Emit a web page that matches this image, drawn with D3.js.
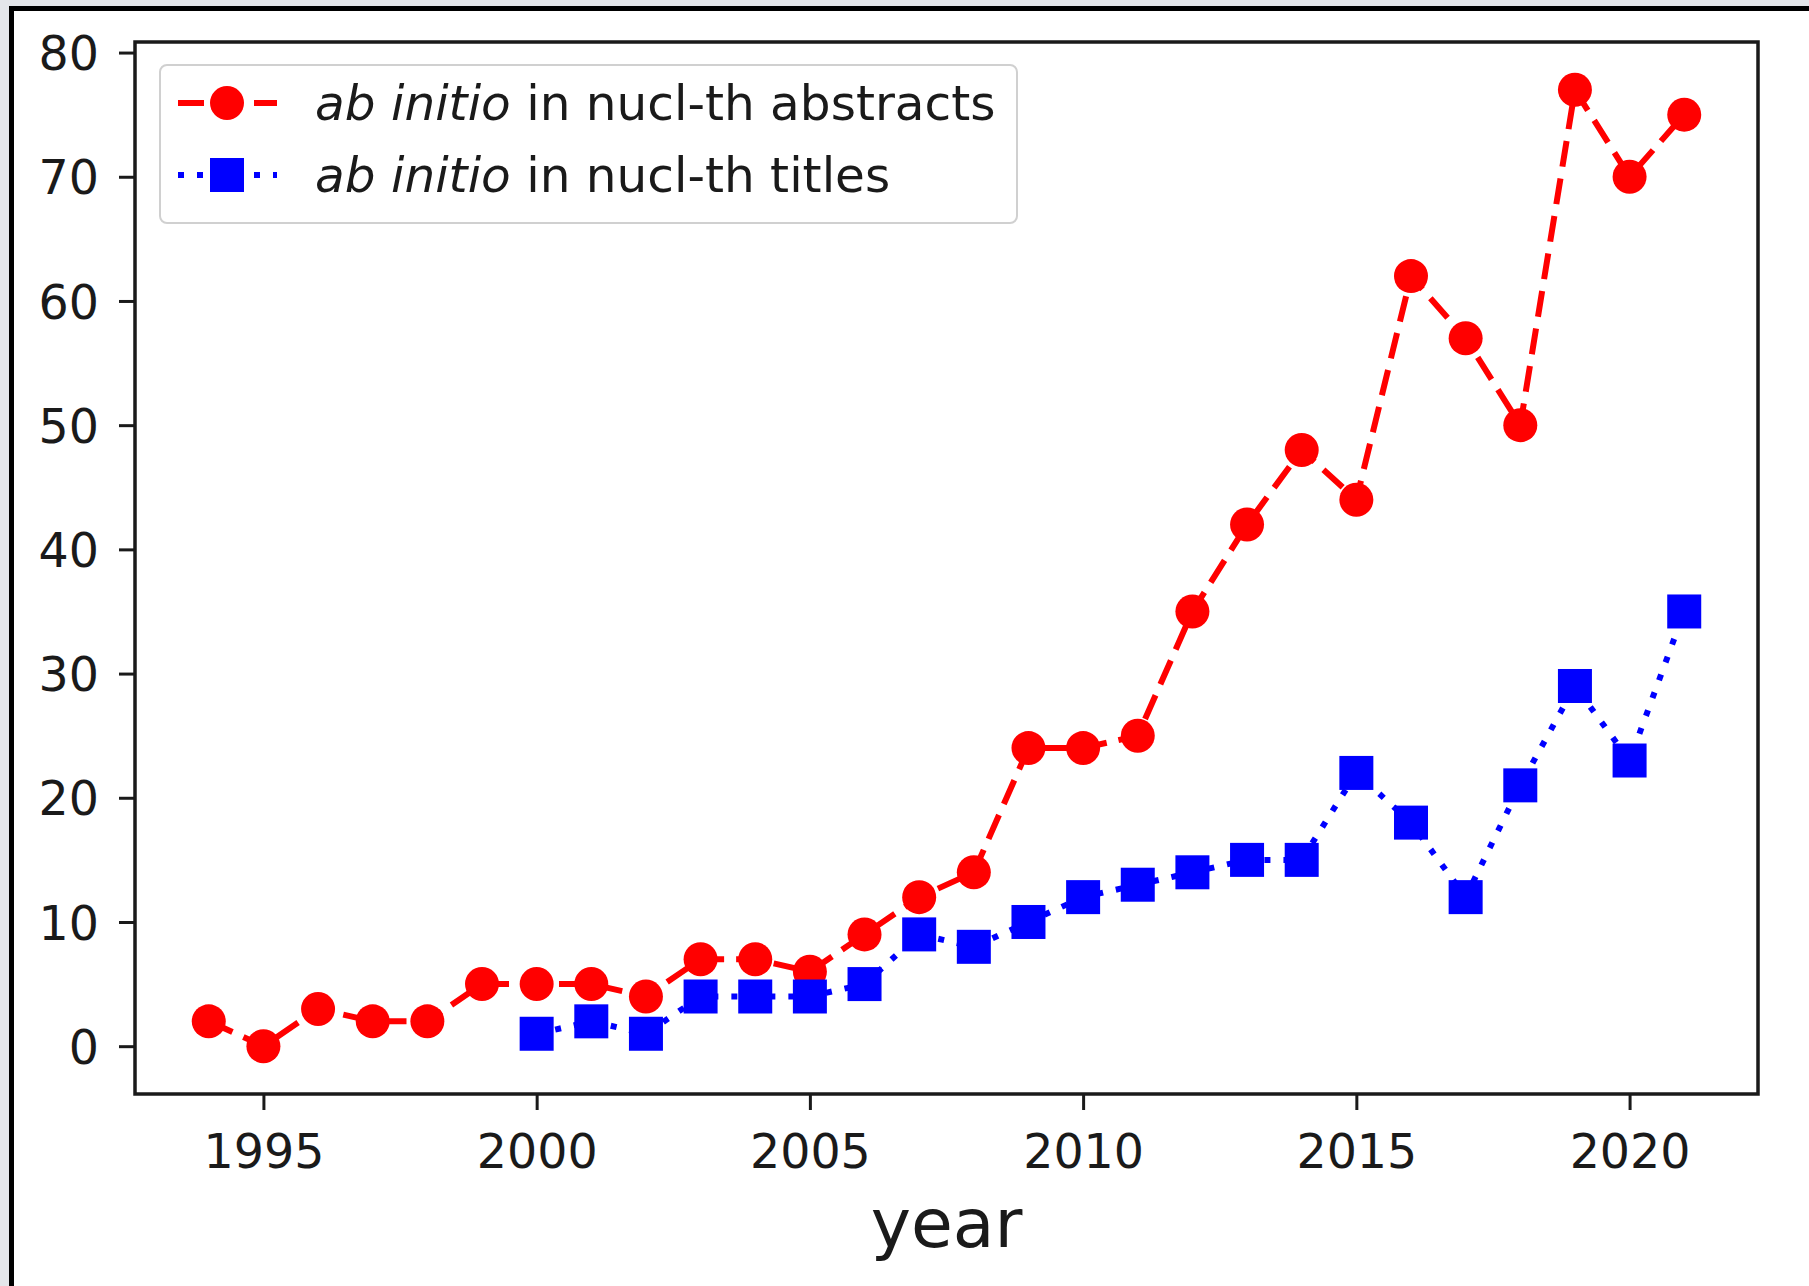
<!DOCTYPE html>
<html>
<head>
<meta charset="utf-8">
<script src="https://cdn.jsdelivr.net/npm/d3@7"></script>
<style>
	html, body { margin: 0; padding: 0; background: #e4e6ea; overflow: hidden; }
	#frame { position: absolute; left: 9px; top: 6px; width: 1900px; height: 1400px; background: #fff; border-left: 5px solid #000; border-top: 5px solid #000; }
	#chart { position: absolute; left: 0; top: 0; }
	text { font-family: "DejaVu Sans", sans-serif; fill: #1a1a1a; }
</style>
</head>
<body>
<div id="frame"></div>
<div id="chart"></div>
<script>
// data
var years = [1994, 1995, 1996, 1997, 1998, 1999, 2000, 2001, 2002, 2003, 2004, 2005, 2006, 2007,
	2008, 2009, 2010, 2011, 2012, 2013, 2014, 2015, 2016, 2017, 2018, 2019, 2020, 2021];
var abstracts = [2, 0, 3, 2, 2, 5, 5, 5, 4, 7, 7, 6, 9, 12,
	14, 24, 24, 25, 35, 42, 48, 44, 62, 57, 50, 77, 70, 75];
var titleYears = [2000, 2001, 2002, 2003, 2004, 2005, 2006, 2007, 2008, 2009, 2010,
	2011, 2012, 2013, 2014, 2015, 2016, 2017, 2018, 2019, 2020, 2021];
var titles = [1, 2, 1, 4, 4, 4, 5, 9, 8, 10, 12,
	13, 14, 15, 15, 22, 18, 12, 21, 29, 23, 35];
var xTicks = [1995, 2000, 2005, 2010, 2015, 2020];
var yTicks = [0, 10, 20, 30, 40, 50, 60, 70, 80];
var legendLabels = ['in nucl-th abstracts', 'in nucl-th titles'];

var W = 1809, H = 1286;
var area = { l: 135, r: 1758, t: 42, b: 1094 };
var fs = 47.5;
var lw = 6;

var svg = d3.select('#chart').append('svg').attr('width', W).attr('height', H);

// matplotlib style 5% margins
var x = d3.scaleLinear().domain([1992.65, 2022.35]).range([area.l, area.r]);
var y = d3.scaleLinear().domain([-3.85, 80.85]).range([area.b, area.t]);

// axes
var gx = svg.append('g').attr('class', 'x-axis').attr('transform', 'translate(0,' + area.b + ')')
	.call(d3.axisBottom(x).tickValues(xTicks).tickSize(16).tickPadding(20).tickFormat(d3.format('d')));
var gy = svg.append('g').attr('class', 'y-axis').attr('transform', 'translate(' + area.l + ',0)')
	.call(d3.axisLeft(y).tickValues(yTicks).tickSize(16).tickPadding(20).tickFormat(d3.format('d')));
[gx, gy].forEach(function (g) {
	g.select('.domain').remove();
	g.selectAll('.tick line').attr('stroke', '#1a1a1a').attr('stroke-width', 3);
	g.selectAll('.tick text').style('font-size', fs + 'px').attr('fill', '#1a1a1a');
});
gx.selectAll('.tick text').attr('dy', null).attr('y', 74).style('dominant-baseline', 'alphabetic');
gy.selectAll('.tick text').attr('dy', '0.36em');

// x axis title
svg.append('text').attr('x', (area.l + area.r) / 2).attr('y', 1247)
	.attr('text-anchor', 'middle').style('font-size', '68px').text('year');

// series
var line = d3.line().x(function (d) { return x(d[0]); }).y(function (d) { return y(d[1]); });
var redPts = years.map(function (d, i) { return [d, abstracts[i]]; });
var bluePts = titleYears.map(function (d, i) { return [d, titles[i]]; });

svg.append('path').datum(redPts).attr('d', line).attr('fill', 'none')
	.attr('stroke', '#ff0000').attr('stroke-width', lw).attr('stroke-dasharray', '26,12');
svg.append('g').selectAll('circle').data(redPts).join('circle')
	.attr('cx', function (d) { return x(d[0]); }).attr('cy', function (d) { return y(d[1]); })
	.attr('r', 17).attr('fill', '#ff0000');

svg.append('path').datum(bluePts).attr('d', line).attr('fill', 'none')
	.attr('stroke', '#0000ff').attr('stroke-width', lw).attr('stroke-dasharray', '6,13');
var sq = 34;
svg.append('g').selectAll('rect').data(bluePts).join('rect')
	.attr('x', function (d) { return x(d[0]) - sq / 2; }).attr('y', function (d) { return y(d[1]) - sq / 2; })
	.attr('width', sq).attr('height', sq).attr('fill', '#0000ff');

// spines
svg.append('rect').attr('x', area.l).attr('y', area.t).attr('width', area.r - area.l).attr('height', area.b - area.t)
	.attr('fill', 'none').attr('stroke', '#1a1a1a').attr('stroke-width', 3.5);

// legend
var lg = svg.append('g').attr('class', 'legend');
lg.append('rect').attr('x', 160).attr('y', 65).attr('width', 857).attr('height', 158).attr('rx', 7)
	.attr('fill', '#fff').attr('fill-opacity', 0.8).attr('stroke', '#d0d0d0').attr('stroke-width', 2);
var rows = [
	{ y: 103, color: '#ff0000', dash: '26,12', marker: 'circle', label: legendLabels[0] },
	{ y: 175, color: '#0000ff', dash: '6,13', marker: 'square', label: legendLabels[1] }
];
rows.forEach(function (r) {
	lg.append('line').attr('x1', 178).attr('x2', 277).attr('y1', r.y).attr('y2', r.y)
		.attr('stroke', r.color).attr('stroke-width', lw).attr('stroke-dasharray', r.dash);
	if (r.marker == 'circle') {
		lg.append('circle').attr('cx', 227).attr('cy', r.y).attr('r', 17).attr('fill', r.color);
	} else {
		lg.append('rect').attr('x', 227 - sq / 2).attr('y', r.y - sq / 2).attr('width', sq).attr('height', sq).attr('fill', r.color);
	}
	var t = lg.append('text').attr('x', 315).attr('y', r.y + 17).style('font-size', '48.5px');
	t.append('tspan').style('font-style', 'italic').text('ab initio');
	t.append('tspan').text(' ' + r.label);
});
</script>
</body>
</html>
